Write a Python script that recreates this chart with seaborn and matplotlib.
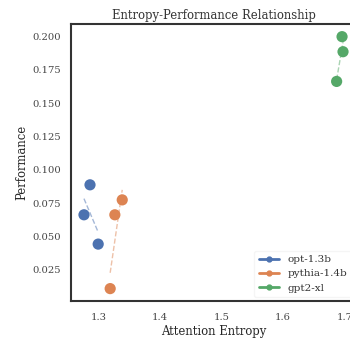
import numpy as np
import pandas as pd
import matplotlib
matplotlib.use("Agg")
import matplotlib.pyplot as plt
import seaborn as sns
from matplotlib.lines import Line2D

models = ["opt-1.3b", "pythia-1.4b", "gpt2-xl"]
opt_entropy = [1.2766, 1.2864, 1.2997]
opt_perf = [0.0663, 0.0888, 0.0443]
pythia_entropy = [1.3192, 1.3268, 1.3388]
pythia_perf = [0.0109, 0.0663, 0.0775]
gpt2_entropy = [1.6962, 1.6978, 1.6874]
gpt2_perf = [0.2000, 0.1887, 0.1664]

df = pd.DataFrame({
    "Attention Entropy": opt_entropy + pythia_entropy + gpt2_entropy,
    "Performance": opt_perf + pythia_perf + gpt2_perf,
    "model": [models[0]] * 3 + [models[1]] * 3 + [models[2]] * 3,
})

sns.set_theme(style="white")
plt.rcParams["font.family"] = ["DejaVu Serif"]
plt.rcParams["axes.edgecolor"] = "#333333"
plt.rcParams["axes.linewidth"] = 1.5
plt.rcParams["text.color"] = "#333333"
plt.rcParams["xtick.color"] = "#444444"
plt.rcParams["ytick.color"] = "#444444"

palette = sns.color_palette("deep", 3)

fig = plt.figure(figsize=(3.5, 3.38), dpi=100)
ax = fig.add_axes([71 / 350, 1 - 301 / 338, (356 - 71) / 350, (301 - 24) / 338])

for i, m in enumerate(models):
    sub = df[df["model"] == m]
    sns.regplot(data=sub, x="Attention Entropy", y="Performance", ax=ax,
                scatter=False, ci=None, color=palette[i],
                line_kws=dict(linestyle="--", alpha=0.5, linewidth=1))

sns.scatterplot(data=df, x="Attention Entropy", y="Performance", hue="model",
                palette=palette, s=65, edgecolor="none", ax=ax, legend=False)

ax.set_xlim(1.2555, 1.7189)
ax.set_ylim(0.0016, 0.2095)
ax.set_xticks([1.3, 1.4, 1.5, 1.6, 1.7])
ax.set_xticklabels(["1.3", "1.4", "1.5", "1.6", "1.7"])
ax.set_yticks([0.025, 0.05, 0.075, 0.1, 0.125, 0.15, 0.175, 0.2])
ax.set_yticklabels(["0.025", "0.050", "0.075", "0.100", "0.125", "0.150", "0.175", "0.200"])
ax.tick_params(axis="both", length=0, labelsize=7.2)
ax.tick_params(axis="x", pad=8.5)
ax.tick_params(axis="y", pad=7)
ax.set_xlabel("Attention Entropy", fontsize=8.4, labelpad=2.2)
ax.set_ylabel("Performance", fontsize=8.4, labelpad=3)
ax.set_title("Entropy-Performance Relationship", fontsize=8.4, pad=3.5)

handles = [Line2D([0], [0], color=palette[i], marker="o", markersize=3.5, linewidth=2)
           for i in range(3)]
leg = ax.legend(handles, models, loc="lower right", fontsize=7.5, frameon=True,
                bbox_to_anchor=(1.003, -0.004), handlelength=2.0, borderpad=0.4,
                labelspacing=0.48, handletextpad=0.8)
leg.get_frame().set_edgecolor("#f5f5f5")
leg.get_frame().set_alpha(1)

fig.savefig("out.png", dpi=100)
